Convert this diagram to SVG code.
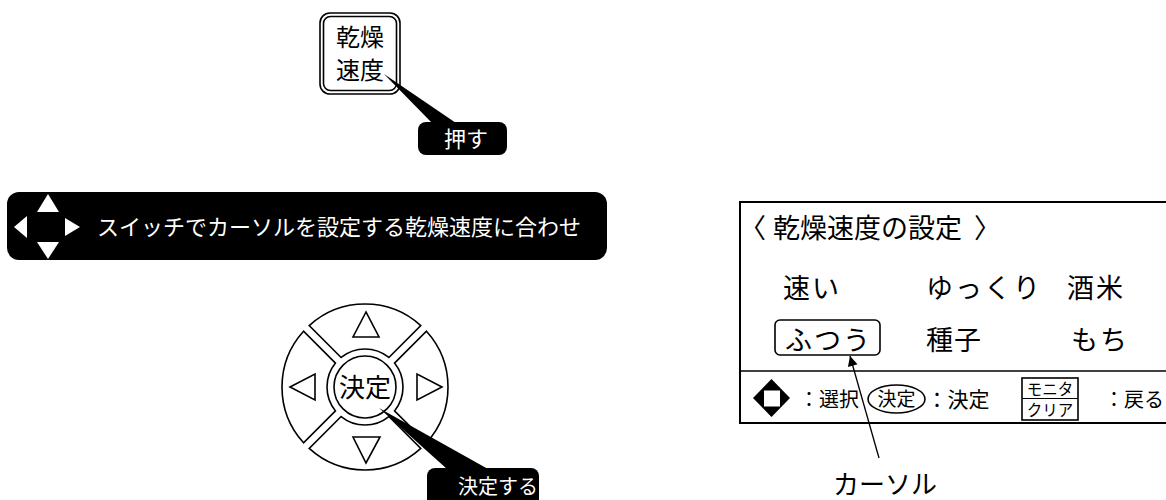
<svg xmlns="http://www.w3.org/2000/svg" width="1166" height="500" viewBox="0 0 1166 500">
<style>
text{font-family:"Noto Sans CJK JP","Noto Sans",sans-serif;fill:#000}
.w{fill:#fff}
.ln{fill:none;stroke:#000;stroke-width:1.6}
.seg{fill:#fff;stroke:#000;stroke-width:1.6}
.blk{fill:#000}
</style>
<defs>
<marker id="ah" viewBox="0 0 10 10" refX="10" refY="5" markerWidth="13" markerHeight="10" markerUnits="userSpaceOnUse" orient="auto"><path d="M0,0 L10,5 L0,10 Z" fill="#000"/></marker>
</defs>
<rect width="1166" height="500" fill="#fff"/>

<g id="btn-speed">
<rect class="ln" x="320" y="13" width="80" height="81" rx="10"/>
<rect class="ln" x="323.5" y="16.5" width="73" height="74" rx="7"/>
<text x="360" y="46" font-size="24" text-anchor="middle">乾燥</text>
<text x="360" y="79" font-size="24" text-anchor="middle">速度</text>
</g>

<g id="label-push">
<rect class="blk" x="418" y="122" width="89" height="33" rx="8"/>
<text class="w" x="466" y="147" font-size="22" text-anchor="middle">押す</text>
</g>

<g id="banner">
<rect class="blk" x="7" y="192" width="600" height="68" rx="12"/>
<polygon class="w" points="48,194 37,212 59,212"/>
<polygon class="w" points="14,227 27,216 27,238"/>
<polygon class="w" points="65,218 80,227 65,236"/>
<polygon class="w" points="37,242 59,242 48,259"/>
<text class="w" x="97" y="235" font-size="22">スイッチでカーソルを設定する乾燥速度に合わせ</text>
</g>

<g id="dial">
<path class="seg" d="M388.89,357.45 L420.79,325.55 A83,83 0 0 0 309.21,325.55 L341.11,357.45 A38,38 0 0 1 388.89,357.45 Z"/>
<path class="seg" d="M394.55,410.89 L426.45,442.79 A83,83 0 0 0 426.45,331.21 L394.55,363.11 A38,38 0 0 1 394.55,410.89 Z"/>
<path class="seg" d="M341.11,416.55 L309.21,448.45 A83,83 0 0 0 420.79,448.45 L388.89,416.55 A38,38 0 0 1 341.11,416.55 Z"/>
<path class="seg" d="M335.45,363.11 L303.55,331.21 A83,83 0 0 0 303.55,442.79 L335.45,410.89 A38,38 0 0 1 335.45,363.11 Z"/>
<polygon class="ln" points="366,312 353,337 379,337"/>
<polygon class="ln" points="353,437 380,437 366,463"/>
<polygon class="ln" points="290,387 315,374 315,400"/>
<polygon class="ln" points="442,387 417,374 417,400"/>
<circle class="ln" cx="365" cy="387" r="31"/>
<text x="365" y="397" font-size="26" text-anchor="middle">決定</text>
</g>

<g id="label-decide">
<rect class="blk" x="427" y="468" width="112" height="40" rx="8"/>
<text class="w" x="458" y="494" font-size="20">決定する</text>
</g>

<g id="screen">
<rect x="740" y="202" width="440" height="221" fill="#fff" stroke="#000" stroke-width="2"/>
<line x1="740" y1="371" x2="1166" y2="371" stroke="#000" stroke-width="1.6"/>
<text x="739" y="238" font-size="27">〈</text>
<text x="773" y="238" font-size="27">乾燥速度の設定</text>
<text x="974" y="238" font-size="27">〉</text>
<text x="783" y="298" font-size="27" letter-spacing="2">速い</text>
<text x="926" y="298" font-size="27" letter-spacing="2">ゆっくり</text>
<text x="1067" y="298" font-size="27" letter-spacing="2">酒米</text>
<rect class="ln" x="775" y="320" width="105" height="35" rx="5"/>
<text x="785" y="350" font-size="27" letter-spacing="2">ふつう</text>
<text x="926" y="350" font-size="27" letter-spacing="1">種子</text>
<text x="1071" y="350" font-size="27" letter-spacing="2">もち</text>
<polygon class="blk" points="771.5,379 790,398 771.5,417 753,398"/>
<rect class="w" x="764" y="390.5" width="16" height="16"/>
<text x="799" y="407" font-size="20">：選択</text>
<ellipse class="ln" cx="896.5" cy="399" rx="28.5" ry="14"/>
<text x="896.5" y="406" font-size="19" text-anchor="middle">決定</text>
<text x="926.5" y="407" font-size="21">：決定</text>
<rect class="ln" x="1022" y="378" width="56" height="42" stroke-width="1.2"/>
<line x1="1022" y1="398.5" x2="1078" y2="398.5" stroke="#000" stroke-width="1.2"/>
<text x="1050" y="395" font-size="15.5" text-anchor="middle">モニタ</text>
<text x="1050" y="416" font-size="15.5" text-anchor="middle">クリア</text>
<text x="1104" y="407" font-size="20">：戻る</text>
</g>

<g id="label-cursor">
<text x="833" y="494" font-size="26">カーソル</text>
</g>

<g id="connectors">
<polygon class="blk" points="384,74 456,123 432,123"/>
<polygon class="blk" points="379,408 488,469 447,469"/>
<line x1="879" y1="458" x2="850" y2="356" stroke="#000" stroke-width="1.3" marker-end="url(#ah)"/>
</g>
</svg>
